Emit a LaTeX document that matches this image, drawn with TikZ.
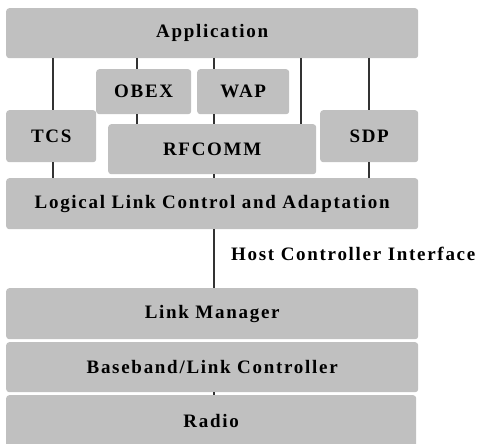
\documentclass[tikz,border=0pt]{standalone}
\usepackage{fontspec}
\newfontfamily\stackfont{Liberation Serif}[LetterSpace=9]
\definecolor{layergray}{HTML}{C0C0C0}
\begin{document}
\begin{tikzpicture}[x=1pt, y=-1pt, line join = round, line cap = butt]
				\tikzset{layer/.style={fill=layergray, rounded corners=3pt, anchor=north west, inner sep=0pt,
						font=\stackfont\bfseries\fontsize{19}{22}\selectfont},
					conn/.style={draw=black!80, line width=1.2pt}}
				\useasboundingbox (0,0) rectangle (480,444);
				% protocol stack, top to bottom
				\node[layer, minimum width=412pt, minimum height=50pt] (app) at (6,8) {Application};
				\node[layer, minimum width=95pt, minimum height=45pt] (obex) at (96,69) {OBEX};
				\node[layer, minimum width=92pt, minimum height=45pt] (wap) at (197,69) {WAP};
				\node[layer, minimum width=90pt, minimum height=52pt] (tcs) at (6,110) {TCS};
				\node[layer, minimum width=208pt, minimum height=50pt] (rfcomm) at (108,124) {RFCOMM};
				\node[layer, minimum width=98pt, minimum height=52pt] (sdp) at (320,110) {SDP};
				\node[layer, minimum width=412pt, minimum height=51pt] (l2cap) at (6,178) {Logical Link Control and Adaptation};
				\node[layer, minimum width=412pt, minimum height=51pt] (lm) at (6,288) {Link Manager};
				\node[layer, minimum width=412pt, minimum height=50pt] (bb) at (6,342) {Baseband/Link Controller};
				\node[layer, minimum width=410pt, minimum height=52pt] (radio) at (6,395) {Radio};
				% drop points under the application box
				\path (53,58) coordinate (d1)
				(137,58) coordinate (d2)
				(214,58) coordinate (d3)
				(301,58) coordinate (d4)
				(369,58) coordinate (d5)
				;
				\draw[conn] (d1) -- (d1 |- tcs.north);
				\draw[conn] (d1 |- tcs.south) -- (d1 |- l2cap.north);
				\draw[conn] (d2) -- (d2 |- obex.north);
				\draw[conn] (d2 |- obex.south) -- (d2 |- rfcomm.north);
				\draw[conn] (d3) -- (d3 |- wap.north);
				\draw[conn] (d3 |- wap.south) -- (d3 |- rfcomm.north);
				\draw[conn] (d3 |- rfcomm.south) -- (d3 |- l2cap.north);
				\draw[conn] (d4) -- (d4 |- rfcomm.north);
				\draw[conn] (d5) -- (d5 |- sdp.north);
				\draw[conn] (d5 |- sdp.south) -- (d5 |- l2cap.north);
				%\draw[conn] (d3 |- lm.south) -- (d3 |- bb.north);
				\draw[conn] (d3 |- bb.south) -- (d3 |- radio.north);
				% host controller interface
				\draw[conn] (d3 |- l2cap.south) -- (d3 |- lm.north);
				\node[anchor=west, inner sep=0pt, font=\stackfont\bfseries\fontsize{19}{22}\selectfont] (hci) at (231,254) {Host Controller Interface};
		\end{tikzpicture}
\end{document}
